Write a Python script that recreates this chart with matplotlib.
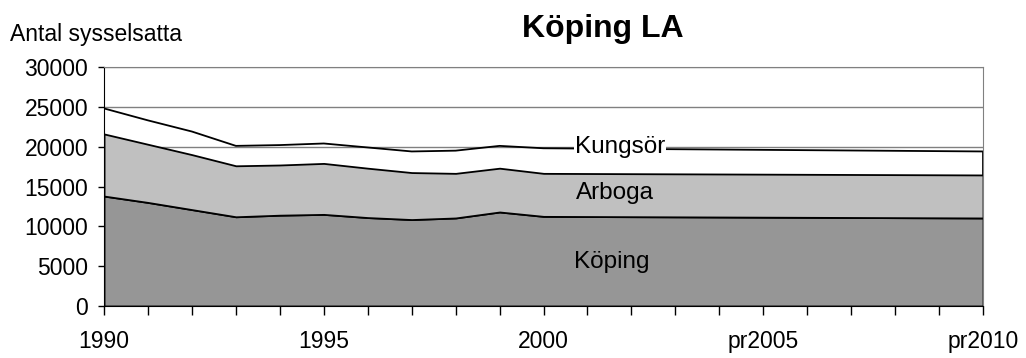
import matplotlib.pyplot as plt
import numpy as np

plt.rcParams['font.family'] = ['Liberation Sans', 'DejaVu Sans']

#employment per municipality, 1990-2010 (2001-2010 projected)
years = ['1990', '', '', '', '', '1995', '', '', '', '', '2000',
         '', '', '', '', 'pr2005', '', '', '', '', 'pr2010']
koping = [13800, 13000, 12100, 11200, 11400, 11500, 11100, 10850, 11050, 11800, 11250,
          11230, 11210, 11190, 11170, 11150, 11130, 11110, 11090, 11070, 11050]
arboga = [7800, 7300, 6900, 6400, 6300, 6400, 6200, 5900, 5600, 5500, 5400,
          5400, 5400, 5400, 5400, 5400, 5400, 5400, 5400, 5400, 5400]
kungsor = [3200, 3000, 2900, 2500, 2500, 2500, 2600, 2650, 2850, 2800, 3150,
           3130, 3110, 3090, 3070, 3050, 3030, 3010, 2990, 2970, 2950]
series = ['Köping', 'Arboga', 'Kungsör']
colors = ['#969696', '#c0c0c0']

fig = plt.figure(figsize=(10.26, 3.58), dpi=100)
ax = fig.add_axes([0.1014, 0.1453, 0.8567, 0.6675])

x = np.arange(len(years))
# filled bands for the two lower series
ax.stackplot(x, koping, arboga, colors=colors,
             edgecolor='black', linewidth=1.3, zorder=2)
# top band left unfilled so the gridline shows through, only its outline
lower = np.array(koping) + np.array(arboga)
total = lower + np.array(kungsor)
ax.plot(x, total, color='black', linewidth=1.3, zorder=2)
ax.vlines(x[-1], lower[-1], total[-1], color='black', linewidth=1.3, zorder=2)

ax.set_xlim(0, len(years) - 1)
ax.set_ylim(0, 30000)
ax.set_yticks(np.arange(0, 30001, 5000))
ax.set_xticks(x)
ax.set_xticklabels(years)
ax.tick_params(axis='x', direction='out', length=6.5, width=1, pad=11, labelsize=16.5)
ax.tick_params(axis='y', direction='out', length=4.5, width=1, pad=7, labelsize=16.5)
ax.yaxis.grid(True, color='#808080', linewidth=1, zorder=0)
ax.set_axisbelow(True)
for side in ['left', 'bottom']:
    ax.spines[side].set_color('black')
for side in ['top', 'right']:
    ax.spines[side].set_color('#808080')

#series labels inside the stacked areas
ax.text(11.74, 19950, series[2], fontsize=17.5, ha='center', va='center', zorder=5,
        bbox=dict(facecolor='white', edgecolor='none', pad=0.3))
ax.text(11.63, 14180, series[1], fontsize=17.5, ha='center', va='center', zorder=5)
ax.text(11.56, 5520, series[0], fontsize=17.5, ha='center', va='center', zorder=5)

fig.text(0.01, 0.905, 'Antal sysselsatta', fontsize=16.5, ha='left', va='center')
fig.text(0.588, 0.92, 'Köping LA', fontsize=23, fontweight='bold', ha='center', va='center')

fig.savefig('out.png', dpi=100)
